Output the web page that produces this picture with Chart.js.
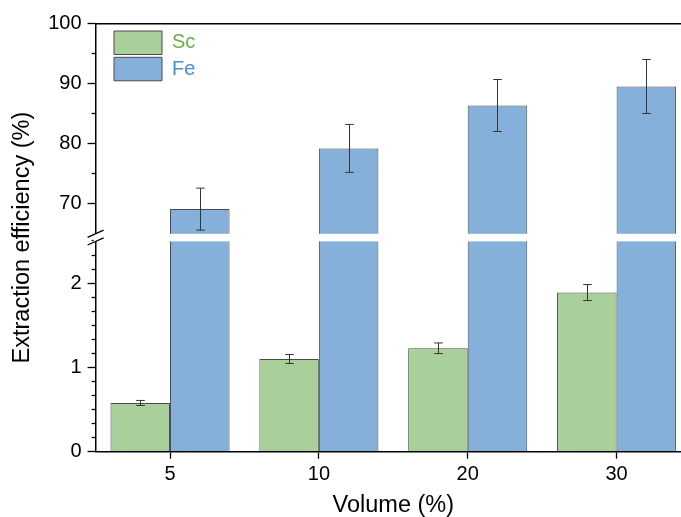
<!DOCTYPE html>
<html>
<head>
<meta charset="utf-8">
<title>Extraction efficiency</title>
<script src="https://cdn.jsdelivr.net/npm/chart.js@4.4.1/dist/chart.umd.min.js"></script>
<style>
  html, body { margin: 0; padding: 0; background: #fff; overflow: hidden; }
  #wrap { position: relative; width: 691px; height: 520px; }
</style>
</head>
<body>
<div id="wrap"><canvas id="chart"></canvas></div>
<script>
// --- data ---
const volumes = ['5', '10', '20', '30'];
const scValues = [0.578, 1.10, 1.227, 1.888];
const scErrors = [0.03, 0.053, 0.063, 0.095];
const feValues = [69.05, 79.17, 86.33, 89.5];
const feErrors = [3.5, 4.0, 4.33, 4.5];

// broken y axis: lower and upper segment ranges
const lowRange = [0, 2.54];
const highRange = [64.3, 100];

// --- styling ---
const SC_FILL = '#a9cf9a';
const FE_FILL = '#84b0da';
const SC_TEXT = '#6aae4a';
const FE_TEXT = '#4a8dd0';
const EDGE = '#4a4a4a';
const FONT = { family: "'Liberation Sans', Arial, sans-serif", size: 20 };
const TITLE_FONT = { family: "'Liberation Sans', Arial, sans-serif", size: 23.5 };

Chart.defaults.font = FONT;
Chart.defaults.color = '#000';
Chart.defaults.animation = false;

const isWhole = v => Math.abs(v - Math.round(v)) < 1e-6;

// error bars, positioned with the chart's own scales
const errorBars = {
  id: 'errorBars',
  afterDatasetsDraw(chart) {
    const ctx = chart.ctx;
    const draw = (meta, scale, values, errors) => {
      meta.data.forEach((bar, i) => {
        const y1 = scale.getPixelForValue(values[i] + errors[i]);
        const y2 = scale.getPixelForValue(values[i] - errors[i]);
        const x = Math.round(bar.x) + 0.5;
        ctx.beginPath();
        ctx.moveTo(x, y1); ctx.lineTo(x, y2);
        ctx.moveTo(x - 4.3, y1); ctx.lineTo(x + 4.3, y1);
        ctx.moveTo(x - 4.3, y2); ctx.lineTo(x + 4.3, y2);
        ctx.stroke();
      });
    };
    ctx.save();
    ctx.strokeStyle = '#333';
    ctx.lineWidth = 1;
    draw(chart.getDatasetMeta(0), chart.scales.yLow, scValues, scErrors);
    draw(chart.getDatasetMeta(2), chart.scales.yHigh, feValues, feErrors);
    ctx.restore();
  }
};

// white gap and "//" marks where the two y segments meet
const axisBreak = {
  id: 'axisBreak',
  afterDraw(chart) {
    const { ctx, chartArea } = chart;
    const yMid = chart.scales.yLow.top;
    const half = 3.8;
    ctx.save();
    ctx.fillStyle = '#fff';
    ctx.fillRect(chartArea.left - 2, yMid - half, chartArea.right - chartArea.left + 2, half * 2);
    ctx.strokeStyle = '#000';
    ctx.lineWidth = 1.3;
    [yMid - half, yMid + half].forEach(y => {
      ctx.beginPath();
      ctx.moveTo(chartArea.left - 8, y + 3.6);
      ctx.lineTo(chartArea.left + 8, y - 3.6);
      ctx.stroke();
    });
    ctx.restore();
  }
};

// legend sits inside the plot, near the top-left corner
const legendSpot = {
  id: 'legendSpot',
  afterLayout(chart) {
    const lg = chart.legend;
    if (!lg) return;
    const pad = lg.options.labels.padding;
    lg.left = chart.chartArea.left + 18.4 - pad;
    lg.top = chart.chartArea.top + 7.5 - pad;
  }
};

function yAxis(range, weight, step, isMajor) {
  return {
    type: 'linear',
    position: 'left',
    stack: 'eff',
    stackWeight: 1,
    weight: weight,
    min: range[0],
    max: range[1],
    border: { display: true, color: '#000', width: 1.5 },
    grid: {
      drawOnChartArea: false,
      drawTicks: true,
      tickLength: 8,
      tickWidth: 1.3,
      tickColor: ctx => (ctx.tick && ctx.tick.value < range[0] + 1.5 && range[0] > 0) ? 'rgba(0,0,0,0)' : '#000',
      tickBorderDash: ctx => (ctx.tick && !isMajor(ctx.tick.value)) ? [4, 4] : [],
      tickBorderDashOffset: ctx => (ctx.tick && !isMajor(ctx.tick.value)) ? 4 : 0
    },
    ticks: {
      stepSize: step,
      maxTicksLimit: 100,
      includeBounds: false,
      autoSkip: false,
      padding: 6,
      color: '#000',
      callback: v => isMajor(v) ? String(Math.round(v)) : ''
    },
    afterFit: s => { s.width = 55.6; }
  };
}

new Chart(document.getElementById('chart'), {
  type: 'bar',
  data: {
    labels: volumes,
    datasets: [
      { label: 'Sc', data: scValues, yAxisID: 'yLow', stack: 'sc',
        backgroundColor: SC_FILL, borderColor: EDGE, borderWidth: 1, clip: 0 },
      { label: 'Fe', data: feValues, yAxisID: 'yLow', stack: 'fe',
        backgroundColor: FE_FILL, borderColor: EDGE, borderWidth: 1, clip: 0 },
      { label: 'Fe', data: feValues, yAxisID: 'yHigh', stack: 'fe',
        backgroundColor: FE_FILL, borderColor: EDGE, borderWidth: 1, clip: 0 }
    ]
  },
  options: {
    responsive: true,
    maintainAspectRatio: false,
    devicePixelRatio: 1,
    layout: { padding: 0 },
    datasets: { bar: { categoryPercentage: 0.8, barPercentage: 1.0 } },
    scales: {
      x: {
        type: 'category',
        position: 'bottom',
        offset: true,
        grid: { display: true, offset: false, drawOnChartArea: false, tickLength: 7, tickWidth: 1.3, tickColor: '#000' },
        border: { display: true, color: '#000', width: 1.5, z: 1 },
        ticks: { color: '#000', padding: 4 },
        title: { display: true, text: 'Volume (%)', color: '#000', font: TITLE_FONT, padding: { top: 0, bottom: 0 } },
        afterFit: s => { s.height = 68.3; }
      },
      xTop: {
        type: 'category',
        position: 'top',
        offset: true,
        grid: { display: false },
        ticks: { display: false },
        border: { display: true, color: '#000', width: 1.6 },
        afterFit: s => { s.height = 23.5; }
      },
      yLow: yAxis(lowRange, 1, 1 / 6, isWhole),
      yHigh: yAxis(highRange, 2, 5, v => v % 10 === 0),
      yTitle: {
        type: 'linear',
        position: 'left',
        weight: 3,
        grid: { display: false },
        border: { display: false },
        ticks: { display: false },
        title: { display: true, text: 'Extraction efficiency (%)', color: '#000', font: TITLE_FONT, padding: { top: 8, bottom: 0 } },
        afterFit: s => { s.width = 40; }
      }
    },
    plugins: {
      legend: {
        position: 'chartArea',
        align: 'start',
        labels: {
          boxWidth: 48,
          boxHeight: 23.5,
          padding: 2.8,
          generateLabels(chart) {
            const colors = [SC_TEXT, FE_TEXT];
            return Chart.defaults.plugins.legend.labels.generateLabels(chart)
              .filter(item => item.datasetIndex < 2)
              .map(item => Object.assign(item, { fontColor: colors[item.datasetIndex] }));
          }
        },
        onClick: () => {}
      },
      tooltip: { enabled: false }
    }
  },
  plugins: [errorBars, axisBreak, legendSpot]
});
</script>
</body>
</html>
